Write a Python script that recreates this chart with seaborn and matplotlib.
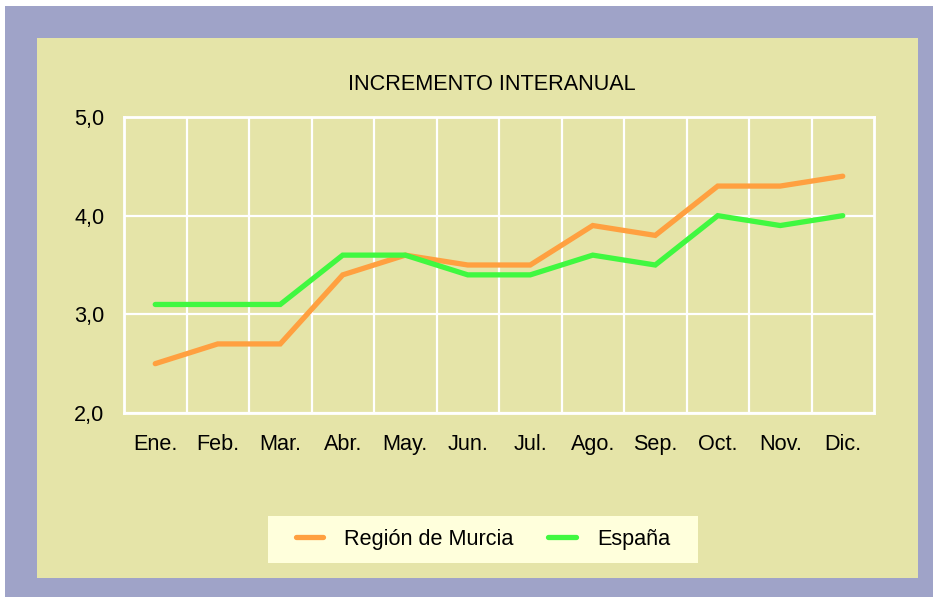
import matplotlib
matplotlib.use("Agg")
import matplotlib.pyplot as plt
import seaborn as sns
import pandas as pd
from matplotlib.patches import Rectangle
from matplotlib.lines import Line2D

months = ["Ene.", "Feb.", "Mar.", "Abr.", "May.", "Jun.", "Jul.", "Ago.", "Sep.", "Oct.", "Nov.", "Dic."]
murcia = [2.5, 2.7, 2.7, 3.4, 3.6, 3.5, 3.5, 3.9, 3.8, 4.3, 4.3, 4.4]
espana = [3.1, 3.1, 3.1, 3.6, 3.6, 3.4, 3.4, 3.6, 3.5, 4.0, 3.9, 4.0]
series_names = ["Región de Murcia", "España"]
yticks = [2.0, 3.0, 4.0, 5.0]
title = "INCREMENTO INTERANUAL"

sns.set_style("white")
plt.rcParams['font.family'] = ['Liberation Sans', 'DejaVu Sans']
plt.rcParams['text.color'] = 'black'
plt.rcParams['xtick.color'] = 'black'
plt.rcParams['ytick.color'] = 'black'

FS = 15.6

df = pd.DataFrame({
    "mes": months * 2,
    "valor": murcia + espana,
    "serie": [series_names[0]] * 12 + [series_names[1]] * 12,
})

W, H = 938, 600
fig = plt.figure(figsize=(W / 100, H / 100), dpi=100)
fig.patch.set_facecolor("white")
fig.patches.append(Rectangle((5 / W, 3 / H), 928 / W, 591 / H, transform=fig.transFigure,
                             facecolor="#9FA3C8", edgecolor="none", zorder=-10))
fig.patches.append(Rectangle((37 / W, (H - 578) / H), 881 / W, 540 / H, transform=fig.transFigure,
                             facecolor="#E5E4A8", edgecolor="none", zorder=-9))
# legend background box
fig.patches.append(Rectangle((268 / W, (H - 563) / H), 430 / W, 47 / H, transform=fig.transFigure,
                             facecolor="#FFFFDC", edgecolor="none", zorder=-8))

ax = fig.add_axes([124 / W, (H - 413) / H, 750 / W, 296 / H])
ax.set_facecolor("#E5E4A8")

palette = {series_names[0]: "#FFA040", series_names[1]: "#40F840"}
sns.lineplot(data=df, x="mes", y="valor", hue="serie", palette=palette, sort=False,
             linewidth=3.8, ax=ax, legend=False)
for ln in ax.lines:
    ln.set_solid_capstyle("round")
    ln.set_solid_joinstyle("miter")

ax.set_xlim(-0.5, 11.5)
ax.set_ylim(2.0, 5.0)
ax.set_yticks(yticks)
ax.set_yticklabels([f"{v:.1f}".replace(".", ",") for v in yticks], fontsize=FS)
ax.set_xticks(range(12))
ax.set_xticklabels(months, fontsize=FS)
ax.set_xticks([i + 0.5 for i in range(11)], minor=True)
ax.tick_params(axis="both", which="both", length=0, colors="black")
ax.tick_params(axis="y", pad=14)
ax.tick_params(axis="x", pad=15)
ax.grid(False)
ax.yaxis.grid(True, color="white", linewidth=1.6)
ax.xaxis.grid(True, which="minor", color="white", linewidth=1.6)
ax.set_axisbelow(True)
for s in ax.spines.values():
    s.set_visible(True)
    s.set_color("white")
    s.set_linewidth(2)
ax.set_xlabel("")
ax.set_ylabel("")

fig.text(492 / W, 1 - 84 / H, title, ha="center", va="center", fontsize=FS, color="black")

handles = [Line2D([0], [0], color=palette[n], linewidth=3.8, solid_capstyle="round") for n in series_names]
leg = fig.legend(handles, series_names, loc="center", bbox_to_anchor=(483 / W, 1 - 539.5 / H),
                 ncol=2, fontsize=FS, frameon=False, handlelength=1.25, handletextpad=1.0,
                 columnspacing=1.6, borderpad=0.6, borderaxespad=0)
for t in leg.get_texts():
    t.set_color("black")

fig.savefig("out.png", dpi=100)
